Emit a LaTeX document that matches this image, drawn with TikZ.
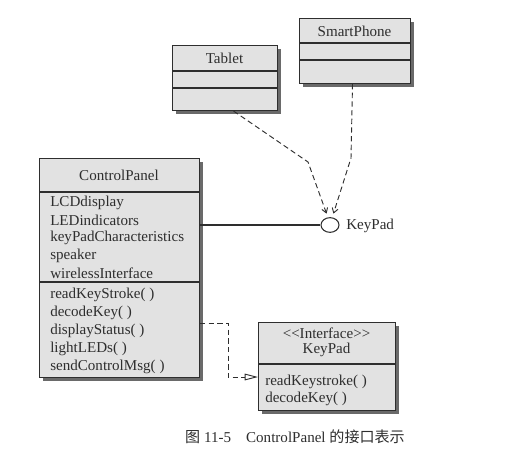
\documentclass[tikz,border=0pt]{standalone}
\usepackage{fontspec}
\setmainfont{Liberation Serif}
\newfontfamily\cjk{Noto Sans CJK SC}
\usetikzlibrary{arrows.meta,shapes.geometric,shadows}
\definecolor{ink}{HTML}{2E2E2E}
\definecolor{boxfill}{HTML}{E2E2E2}
\definecolor{shade}{HTML}{6A6A6A}
\begin{document}
\begin{tikzpicture}[x=0.75pt,y=-0.75pt,
  umlbox/.style={draw=ink, line width=0.8pt, fill=boxfill, inner sep=0pt, anchor=north west,
    drop shadow={shadow xshift=2.4pt, shadow yshift=-2.4pt, fill=shade, opacity=1}},
  sep/.style={draw=ink, line width=0.8pt},
  lbl/.style={font=\fontsize{11.3}{13}\selectfont, text=ink, inner sep=0pt},
  item/.style={lbl, anchor=west},
  dep/.style={draw=ink, line width=0.7pt, dash pattern=on 4pt off 2.5pt, -{Straight Barb[length=3.5pt,width=4.5pt]}},
  real/.style={draw=ink, line width=0.7pt, dash pattern=on 4pt off 2.5pt, -{Triangle[open,length=10pt,width=5pt]}}
]
\useasboundingbox (0,0) rectangle (530,466);

% Tablet
\node[umlbox, minimum width=78.75pt, minimum height=48.75pt] (tab) at (172,45) {};
\draw[sep] (tab.west |- 0,71) -- (tab.east |- 0,71);
\draw[sep] (tab.west |- 0,88) -- (tab.east |- 0,88);
\node[lbl] (tabname) at (224.5,58) {Tablet};

% SmartPhone
\node[umlbox, minimum width=83.25pt, minimum height=48.75pt] (sp) at (299,18) {};
\draw[sep] (sp.west |- 0,43) -- (sp.east |- 0,43);
\draw[sep] (sp.west |- 0,60) -- (sp.east |- 0,60);
\node[lbl] (spname) at (354.5,31) {SmartPhone};

% ControlPanel
\node[umlbox, minimum width=120pt, minimum height=164.25pt] (cp) at (39,158) {};
\draw[sep] (cp.west |- 0,192) -- (cp.east |- 0,192);
\draw[sep] (cp.west |- 0,282) -- (cp.east |- 0,282);
\node[lbl] (cpname) at (119,175) {ControlPanel};
\node[item] (a1) at (50,203) {LCDdisplay};
\node[item] (a2) at (50,220.5) {LEDindicators};
\node[item] (a3) at (50,238) {keyPadCharacteristics};
\node[item] (a4) at (50,255.5) {speaker};
\node[item] (a5) at (50,273) {wirelessInterface};
\node[item] (m1) at (50,295) {readKeyStroke( )};
\node[item] (m2) at (50,313) {decodeKey( )};
\node[item] (m3) at (50,331) {displayStatus( )};
\node[item] (m4) at (50,349) {lightLEDs( )};
\node[item] (m5) at (50,367) {sendControlMsg( )};

% KeyPad lollipop
\node[ellipse, draw=ink, line width=0.8pt, fill=white, minimum width=13.5pt, minimum height=11pt, inner sep=0pt] (kp) at (330,225) {};
\node[item] (kplbl) at (346,226) {KeyPad};
\draw[draw=ink, line width=0.8pt] (cp.east |- kp.west) -- (kp.west);

% Interface KeyPad
\node[umlbox, minimum width=102.75pt, minimum height=66pt] (ifc) at (258,322) {};
\draw[sep] (ifc.west |- 0,364) -- (ifc.east |- 0,364);
\node[lbl] (st) at (326.5,333) {<\kern0pt<Interface>\kern0pt>};
\node[lbl] (ifname) at (326.5,350) {KeyPad};
\node[item] (i1) at (265,382) {readKeystroke( )};
\node[item] (i2) at (265,399) {decodeKey( )};

% dependencies to the lollipop
\coordinate (tb) at (308,162);
\coordinate (sb) at (351,158);
\draw[dep] ([xshift=6.4pt]tab.south) -- (tb) -- ([yshift=3pt]kp.115);
\draw[dep] ([xshift=-1.9pt]sp.south) -- (sb) -- ([yshift=3pt]kp.65);

% realization
\coordinate (r1) at (228,323);
\coordinate (r2) at (228,377);
\draw[real] (cp.east |- r1) -- (r1) -- (r2) -- (ifc.west |- r2);

% caption
\node[lbl] (cap) at (295,437) {{\cjk 图} 11-5\quad ControlPanel {\cjk 的接口表示}};
\end{tikzpicture}
\end{document}
